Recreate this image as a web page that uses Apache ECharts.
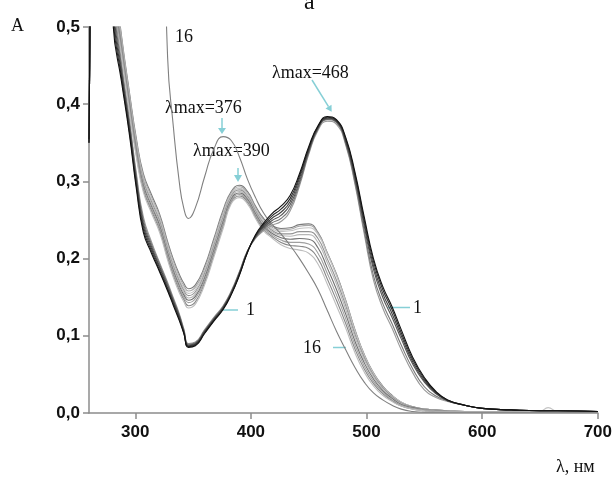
<!DOCTYPE html>
<html>
<head>
<meta charset="utf-8">
<script src="https://cdn.jsdelivr.net/npm/echarts@6/dist/echarts.min.js"></script>
<style>
html,body{margin:0;padding:0;background:#fff;}
#chart{width:615px;height:482px;}
</style>
</head>
<body>
<div id="chart"></div>
<script>
// wavelength grid (nm)
const wavelengths = [260, 261.5, 266, 276, 281, 288, 295, 301, 307, 314, 321, 328, 333, 338, 342, 346, 352, 360, 368, 376, 383, 390, 397, 404, 411, 418, 426, 434, 442, 450, 458, 466, 474, 482, 490, 498, 506, 514, 522, 530, 540, 550, 560, 570, 585, 600, 625, 650, 657, 665, 700];

// absorbance spectra
const curve1 = [0.35, 0.62, 1.2, 0.75, 0.5, 0.43, 0.36, 0.29, 0.234, 0.207, 0.183, 0.158, 0.139, 0.12, 0.103, 0.085, 0.087, 0.103, 0.119, 0.134, 0.153, 0.178, 0.208, 0.231, 0.246, 0.258, 0.268, 0.282, 0.31, 0.345, 0.372, 0.384, 0.38, 0.357, 0.312, 0.254, 0.2, 0.164, 0.138, 0.108, 0.072, 0.046, 0.028, 0.017, 0.01, 0.006, 0.004, 0.003, 0.003, 0.003, 0.002];
const curve2 = [0.35, 0.62, 1.2, 0.76, 0.51, 0.435, 0.364, 0.294, 0.238, 0.21, 0.185, 0.16, 0.141, 0.122, 0.104, 0.086, 0.088, 0.104, 0.12, 0.135, 0.154, 0.179, 0.208, 0.23, 0.244, 0.255, 0.264, 0.278, 0.307, 0.343, 0.371, 0.383, 0.379, 0.355, 0.309, 0.25, 0.196, 0.16, 0.134, 0.104, 0.069, 0.044, 0.027, 0.017, 0.01, 0.006, 0.004, 0.003, 0.003, 0.003, 0.002];
const curve3 = [0.355, 0.62, 1.2, 0.77, 0.52, 0.44, 0.368, 0.298, 0.242, 0.213, 0.188, 0.162, 0.143, 0.124, 0.105, 0.087, 0.089, 0.105, 0.121, 0.136, 0.155, 0.18, 0.209, 0.229, 0.242, 0.252, 0.26, 0.274, 0.304, 0.341, 0.37, 0.382, 0.378, 0.353, 0.306, 0.246, 0.191, 0.155, 0.129, 0.1, 0.066, 0.042, 0.026, 0.016, 0.01, 0.006, 0.004, 0.003, 0.003, 0.003, 0.002];
const curve4 = [0.355, 0.62, 1.2, 0.78, 0.53, 0.445, 0.372, 0.302, 0.246, 0.216, 0.19, 0.165, 0.145, 0.126, 0.106, 0.088, 0.09, 0.106, 0.122, 0.137, 0.156, 0.181, 0.209, 0.228, 0.24, 0.249, 0.256, 0.27, 0.3, 0.339, 0.369, 0.381, 0.377, 0.351, 0.303, 0.242, 0.186, 0.15, 0.124, 0.096, 0.063, 0.04, 0.025, 0.016, 0.01, 0.006, 0.004, 0.003, 0.003, 0.003, 0.002];
const curve5 = [0.36, 0.62, 1.2, 0.79, 0.54, 0.45, 0.376, 0.306, 0.25, 0.219, 0.193, 0.167, 0.147, 0.127, 0.108, 0.089, 0.091, 0.107, 0.123, 0.138, 0.157, 0.182, 0.21, 0.227, 0.238, 0.246, 0.252, 0.266, 0.297, 0.337, 0.368, 0.38, 0.376, 0.349, 0.299, 0.236, 0.178, 0.142, 0.116, 0.088, 0.057, 0.034, 0.022, 0.016, 0.01, 0.006, 0.004, 0.003, 0.003, 0.003, 0.002];
const curve6 = [0.36, 0.62, 1.2, 0.8, 0.55, 0.455, 0.38, 0.31, 0.254, 0.222, 0.195, 0.169, 0.149, 0.129, 0.109, 0.09, 0.092, 0.108, 0.124, 0.139, 0.158, 0.183, 0.21, 0.226, 0.236, 0.243, 0.248, 0.262, 0.294, 0.335, 0.366, 0.378, 0.374, 0.347, 0.296, 0.232, 0.172, 0.136, 0.11, 0.082, 0.052, 0.03, 0.02, 0.015, 0.01, 0.006, 0.004, 0.003, 0.003, 0.003, 0.002];
const curve7 = [0.35, 0.62, 1.2, 0.85, 0.58, 0.49, 0.415, 0.355, 0.31, 0.283, 0.258, 0.222, 0.199, 0.18, 0.168, 0.161, 0.166, 0.19, 0.226, 0.263, 0.287, 0.295, 0.287, 0.268, 0.252, 0.243, 0.239, 0.24, 0.244, 0.245, 0.234, 0.208, 0.18, 0.146, 0.108, 0.076, 0.052, 0.035, 0.023, 0.014, 0.008, 0.005, 0.004, 0.003, 0.002, 0.002, 0.002, 0.002, 0.002, 0.002, 0.001];
const curve8 = [0.35, 0.62, 1.2, 0.84, 0.575, 0.487, 0.412, 0.352, 0.307, 0.28, 0.255, 0.219, 0.196, 0.177, 0.165, 0.158, 0.163, 0.187, 0.223, 0.26, 0.285, 0.293, 0.285, 0.266, 0.25, 0.241, 0.237, 0.238, 0.242, 0.243, 0.233, 0.207, 0.179, 0.145, 0.107, 0.075, 0.051, 0.034, 0.022, 0.014, 0.008, 0.005, 0.004, 0.003, 0.002, 0.002, 0.002, 0.002, 0.002, 0.002, 0.001];
const curve9 = [0.35, 0.62, 1.2, 0.83, 0.57, 0.484, 0.409, 0.349, 0.304, 0.277, 0.252, 0.216, 0.193, 0.174, 0.162, 0.155, 0.16, 0.184, 0.22, 0.257, 0.283, 0.291, 0.283, 0.264, 0.248, 0.239, 0.235, 0.236, 0.239, 0.24, 0.231, 0.206, 0.178, 0.144, 0.106, 0.075, 0.051, 0.034, 0.022, 0.014, 0.008, 0.005, 0.004, 0.003, 0.002, 0.002, 0.002, 0.002, 0.007, 0.002, 0.001];
const curve10 = [0.35, 0.62, 1.2, 0.82, 0.565, 0.481, 0.406, 0.346, 0.301, 0.274, 0.249, 0.213, 0.19, 0.171, 0.159, 0.152, 0.157, 0.181, 0.217, 0.254, 0.281, 0.289, 0.281, 0.262, 0.246, 0.237, 0.232, 0.232, 0.235, 0.235, 0.226, 0.2, 0.172, 0.139, 0.102, 0.072, 0.049, 0.033, 0.021, 0.013, 0.008, 0.005, 0.004, 0.003, 0.002, 0.002, 0.002, 0.002, 0.002, 0.002, 0.001];
const curve11 = [0.35, 0.62, 1.2, 0.81, 0.56, 0.478, 0.403, 0.343, 0.298, 0.271, 0.246, 0.21, 0.187, 0.168, 0.156, 0.149, 0.154, 0.178, 0.214, 0.251, 0.279, 0.287, 0.279, 0.26, 0.244, 0.235, 0.23, 0.229, 0.231, 0.231, 0.221, 0.195, 0.167, 0.134, 0.098, 0.069, 0.047, 0.031, 0.02, 0.012, 0.007, 0.004, 0.003, 0.002, 0.002, 0.002, 0.002, 0.002, 0.002, 0.002, 0.001];
const curve12 = [0.35, 0.62, 1.2, 0.8, 0.555, 0.475, 0.4, 0.34, 0.295, 0.268, 0.243, 0.207, 0.184, 0.165, 0.153, 0.146, 0.151, 0.175, 0.211, 0.248, 0.277, 0.285, 0.277, 0.258, 0.242, 0.233, 0.227, 0.225, 0.226, 0.225, 0.214, 0.188, 0.16, 0.128, 0.093, 0.065, 0.044, 0.029, 0.019, 0.011, 0.007, 0.004, 0.003, 0.002, 0.002, 0.002, 0.002, 0.002, 0.002, 0.002, 0.001];
const curve13 = [0.35, 0.62, 1.2, 0.79, 0.55, 0.472, 0.397, 0.337, 0.292, 0.265, 0.24, 0.204, 0.181, 0.162, 0.15, 0.143, 0.148, 0.172, 0.208, 0.245, 0.275, 0.283, 0.275, 0.256, 0.24, 0.231, 0.224, 0.221, 0.221, 0.219, 0.207, 0.181, 0.153, 0.122, 0.088, 0.061, 0.041, 0.027, 0.017, 0.01, 0.006, 0.004, 0.003, 0.002, 0.002, 0.002, 0.002, 0.002, 0.002, 0.002, 0.001];
const curve14 = [0.35, 0.62, 1.2, 0.78, 0.545, 0.469, 0.394, 0.334, 0.289, 0.262, 0.237, 0.201, 0.178, 0.159, 0.147, 0.139, 0.144, 0.169, 0.205, 0.242, 0.273, 0.281, 0.273, 0.254, 0.238, 0.229, 0.221, 0.217, 0.216, 0.213, 0.2, 0.174, 0.146, 0.116, 0.083, 0.057, 0.038, 0.025, 0.016, 0.009, 0.005, 0.003, 0.002, 0.002, 0.002, 0.002, 0.002, 0.002, 0.002, 0.002, 0.001];
const curve15 = [0.35, 0.62, 1.2, 0.77, 0.54, 0.466, 0.391, 0.331, 0.286, 0.259, 0.234, 0.198, 0.175, 0.156, 0.144, 0.136, 0.141, 0.166, 0.202, 0.239, 0.271, 0.279, 0.271, 0.252, 0.236, 0.227, 0.218, 0.213, 0.211, 0.207, 0.193, 0.167, 0.139, 0.11, 0.078, 0.053, 0.035, 0.023, 0.015, 0.009, 0.005, 0.003, 0.002, 0.002, 0.002, 0.002, 0.002, 0.002, 0.002, 0.002, 0.001];
const curve16 = [0.35, 0.62, 1.2, 1.2, 1.2, 1.2, 1.2, 1.2, 1.2, 1.1, 0.85, 0.46, 0.37, 0.3, 0.265, 0.252, 0.266, 0.306, 0.342, 0.358, 0.353, 0.332, 0.303, 0.279, 0.259, 0.245, 0.232, 0.217, 0.2, 0.181, 0.16, 0.133, 0.106, 0.082, 0.059, 0.04, 0.026, 0.017, 0.01, 0.005, 0.002, 0.001, 0.001, 0.001, 0.001, 0.001, 0.001, 0.001, 0.001, 0.001, 0.001];

const xTicks = [300, 400, 500, 600, 700];
const yTicks = [0, 0.1, 0.2, 0.3, 0.4, 0.5];

const curves = [
  {data: curve7,  color: '#7a7a7a'},
  {data: curve8,  color: '#a8a8a8'},
  {data: curve9,  color: '#c4c4c4'},
  {data: curve10, color: '#939393'},
  {data: curve11, color: '#b6b6b6'},
  {data: curve12, color: '#707070'},
  {data: curve13, color: '#a0a0a0'},
  {data: curve14, color: '#888888'},
  {data: curve15, color: '#bdbdbd'},
  {data: curve16, color: '#808080'},
  {data: curve6,  color: '#999999'},
  {data: curve5,  color: '#777777'},
  {data: curve4,  color: '#555555'},
  {data: curve3,  color: '#404040'},
  {data: curve2,  color: '#2b2b2b'},
  {data: curve1,  color: '#111111'}
];

const chart = echarts.init(document.getElementById('chart'), null, {renderer: 'canvas'});
const serif = 'Liberation Serif';
const cyan = '#86cfd6';

function txt(text, x, y, size) {
  return {type: 'text', x: x, y: y, silent: true,
    style: {text: text, fill: '#111', fontFamily: serif, fontSize: size || 18, verticalAlign: 'middle', align: 'left'}};
}
function seg(x1, y1, x2, y2) {
  return {type: 'line', silent: true, shape: {x1: x1, y1: y1, x2: x2, y2: y2}, style: {stroke: cyan, lineWidth: 1.5}};
}
function head(points) {
  return {type: 'polygon', silent: true, shape: {points: points}, style: {fill: cyan}};
}

const option = {
  animation: false,
  backgroundColor: '#fff',
  grid: {left: 89, right: 17, top: 27, bottom: 69},
  xAxis: {
    type: 'value', min: 260, max: 700,
    axisLine: {lineStyle: {color: '#8c8c8c', width: 1.5}},
    axisTick: {show: true, length: 6, customValues: xTicks, lineStyle: {color: '#8c8c8c', width: 1.5}},
    axisLabel: {customValues: xTicks, margin: 11, color: '#111', fontFamily: 'Liberation Sans', fontWeight: 'bold', fontSize: 17},
    splitLine: {show: false}
  },
  yAxis: {
    type: 'value', min: 0, max: 0.5, interval: 0.1,
    axisLine: {show: true, lineStyle: {color: '#8c8c8c', width: 1.5}},
    axisTick: {show: true, length: 6, lineStyle: {color: '#8c8c8c', width: 1.5}},
    axisLabel: {margin: 9, color: '#111', fontFamily: 'Liberation Sans', fontWeight: 'bold', fontSize: 17,
      formatter: function (v) { return v.toFixed(1).replace('.', ','); }},
    splitLine: {show: false}
  },
  series: curves.map(function (c) {
    return {
      type: 'line', silent: true, symbol: 'none', smooth: 0.5, clip: true,
      lineStyle: {color: c.color, width: 1.1},
      data: wavelengths.map(function (w, i) { return [w, c.data[i]]; })
    };
  }),
  graphic: [
    txt('a', 304, 3, 24),
    txt('A', 11, 26, 18),
    txt('16', 175, 37, 18),
    txt('λmax=376', 165, 108, 18),
    txt('λmax=390', 193, 151, 18),
    txt('λmax=468', 272, 73, 18),
    seg(222, 118, 222, 129), head([[218, 128], [226, 128], [222, 134]]),
    seg(238, 168, 238, 176), head([[234, 175], [242, 175], [238, 182]]),
    seg(312, 80, 328.5, 106.6), head([[331.7, 111.7], [325.5, 108.5], [331.5, 104.7]]),
    seg(222, 310, 238, 310), txt('1', 246, 310, 18),
    seg(388, 307.5, 410, 307.5), txt('1', 413, 308, 18),
    seg(333, 347.5, 346, 347.5), txt('16', 303, 348, 18),
    txt('λ, нм', 556, 467, 18)
  ]
};
chart.setOption(option);
</script>
</body>
</html>
